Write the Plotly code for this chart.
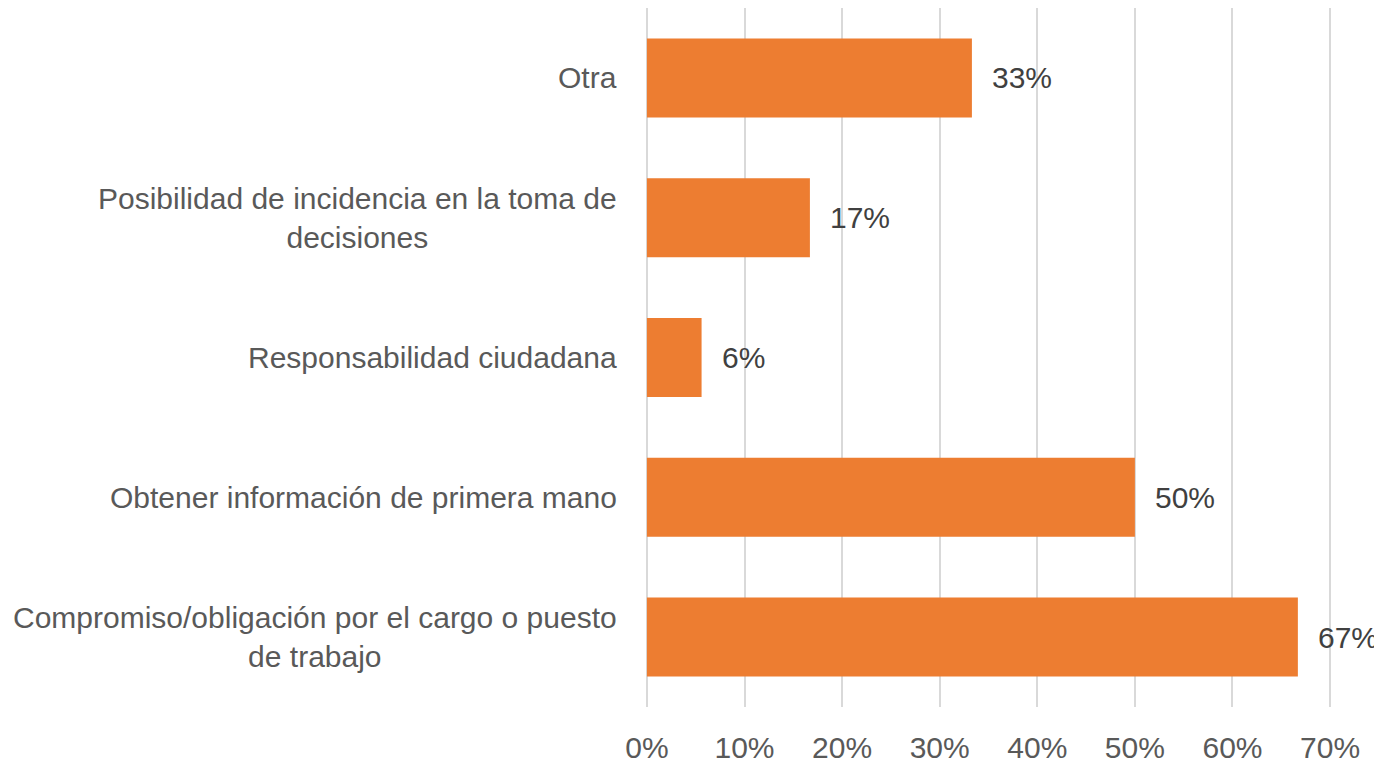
import plotly.graph_objects as go

categories = [
    "Compromiso/obligación por el cargo o puesto<br>de trabajo",
    "Obtener información de primera mano",
    "Responsabilidad ciudadana",
    "Posibilidad de incidencia en la toma de<br>decisiones",
    "Otra",
]
values = [66.7, 50.0, 5.6, 16.7, 33.3]
value_labels = ["67%", "50%", "6%", "17%", "33%"]
tick_vals = [0, 10, 20, 30, 40, 50, 60, 70]
tick_text = ["0%", "10%", "20%", "30%", "40%", "50%", "60%", "70%"]

FONT = "Liberation Sans, Arial, sans-serif"
FS = 30

fig = go.Figure()
fig.add_trace(go.Bar(
    x=values, y=categories, orientation="h",
    marker=dict(color="#ED7D31", line=dict(width=0)),
    width=0.565, hoverinfo="skip",
))

annotations = []
for c in categories:
    annotations.append(dict(
        x=0, xref="paper", y=c, yref="y", text=c, showarrow=False,
        xanchor="right", yanchor="middle", align="center", xshift=-25,
        font=dict(family=FONT, size=FS, color="#595959"),
    ))
for c, v, t in zip(categories, values, value_labels):
    annotations.append(dict(
        x=v, xref="x", y=c, yref="y", text=t, showarrow=False,
        xanchor="left", yanchor="middle", xshift=18,
        font=dict(family=FONT, size=FS, color="#404040"),
    ))

fig.update_layout(
    width=1374, height=755,
    margin=dict(l=636, r=49, t=0, b=56),
    plot_bgcolor="white", paper_bgcolor="white",
    showlegend=False,
    annotations=annotations,
    xaxis=dict(
        range=[-0.3, 70.3], tickvals=tick_vals, ticktext=tick_text,
        showgrid=True, gridcolor="#D9D9D9", gridwidth=2, zeroline=False,
        showline=False, ticks="outside", ticklen=14, tickcolor="rgba(0,0,0,0)",
        tickfont=dict(family=FONT, size=FS, color="#595959"),
        automargin=False,
    ),
    yaxis=dict(
        range=[-0.5, 4.5], showticklabels=False, showgrid=False,
        zeroline=False, showline=False, automargin=False,
    ),
)

fig.write_html("out.html")
